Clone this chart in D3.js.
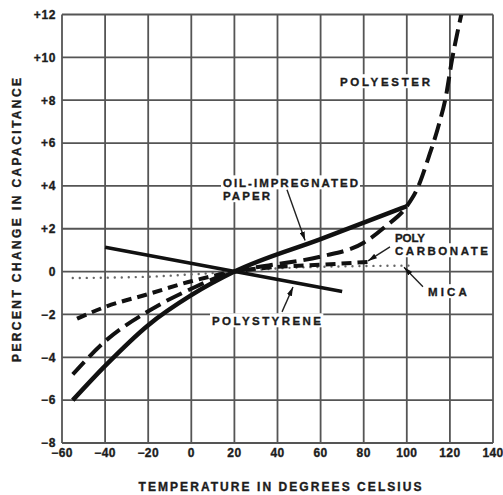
<!DOCTYPE html>
<html>
<head>
<meta charset="utf-8">
<script src="https://cdn.jsdelivr.net/npm/d3@7"></script>
<style>
  html, body { margin: 0; padding: 0; background: #fff; }
  svg { display: block; }
  text { font-family: "Liberation Sans", Arial, sans-serif; font-weight: bold; fill: #1c1c1c;
         stroke: #1c1c1c; stroke-width: 0.35px; }
</style>
</head>
<body>
<svg id="chart" width="503" height="495"></svg>
<script>
// Axis ticks and labels
const xTicks = [-60, -40, -20, 0, 20, 40, 60, 80, 100, 120, 140];
const xTickLabels = ["\u221260", "\u221240", "\u221220", "0", "20", "40", "60", "80", "100", "120", "140"];
const yTicks = [-8, -6, -4, -2, 0, 2, 4, 6, 8, 10, 12];
const yTickLabels = ["\u22128", "\u22126", "\u22124", "\u22122", "0", "+2", "+4", "+6", "+8", "+10", "+12"];

// Capacitance change (%) versus temperature (deg C) for each dielectric
const oilPaperTemp = [-55, -40, -20, 0, 20, 60, 100];
const oilPaperPct  = [-6.0, -4.4, -2.5, -1.1, 0, 1.52, 3.05];

const polyesterTemp = [-55, -40, -20, 0, 20, 30, 40, 60, 80, 90, 100, 105, 110, 115, 118, 121, 125.3];
const polyesterPct  = [-4.8, -3.25, -1.85, -0.8, 0, 0.2, 0.35, 0.7, 1.35, 2.1, 3.05, 3.9, 5.3, 6.9, 8.1, 9.9, 12];

const polycarbonateTemp = [-53, -40, -20, 0, 20, 40, 60, 82];
const polycarbonatePct  = [-2.2, -1.65, -1.05, -0.45, 0, 0.22, 0.32, 0.45];

const micaTemp = [-55, -20, 0, 20, 40, 60, 80, 102];
const micaPct  = [-0.3, -0.24, -0.13, 0, 0.15, 0.22, 0.26, 0.28];

const polystyreneTemp = [-40, 70];
const polystyrenePct  = [1.14, -0.93];

const svg = d3.select("#chart");
const x = d3.scaleLinear().domain([-60, 140]).range([62, 493]);
const y = d3.scaleLinear().domain([-8, 12]).range([443, 14.5]);

// Grid
const grid = svg.append("g").attr("stroke", "#555").attr("stroke-width", 1.8);
grid.selectAll("line.v").data(xTicks).join("line")
  .attr("x1", d => x(d)).attr("x2", d => x(d))
  .attr("y1", y(12)).attr("y2", y(-8));
grid.selectAll("line.h").data(yTicks).join("line")
  .attr("x1", x(-60)).attr("x2", x(140))
  .attr("y1", d => y(d)).attr("y2", d => y(d));

// Tick labels
svg.append("g").selectAll("text").data(yTicks).join("text")
  .attr("x", 56).attr("y", d => y(d)).attr("dy", "0.36em")
  .attr("text-anchor", "end").attr("font-size", 12).attr("letter-spacing", 0.6)
  .text((d, i) => yTickLabels[i]);
svg.append("g").selectAll("text").data(xTicks).join("text")
  .attr("x", d => x(d)).attr("y", 453).attr("dy", "0.36em")
  .attr("text-anchor", "middle").attr("font-size", 12).attr("letter-spacing", 0.4)
  .text((d, i) => xTickLabels[i]);

// Axis titles
svg.append("text")
  .attr("x", 280).attr("y", 487).attr("dy", "0.36em")
  .attr("text-anchor", "middle").attr("font-size", 12)
  .attr("textLength", 283).attr("lengthAdjust", "spacing")
  .text("TEMPERATURE IN DEGREES CELSIUS");
svg.append("text")
  .attr("transform", "translate(17,220) rotate(-90)")
  .attr("dy", "0.36em")
  .attr("text-anchor", "middle").attr("font-size", 12)
  .attr("textLength", 284).attr("lengthAdjust", "spacing")
  .text("PERCENT CHANGE IN CAPACITANCE");

// Curve labels, each with a white knockout behind it
const knockouts = svg.append("g");
const curves = svg.append("g").attr("fill", "none").attr("stroke", "#111");
const labelLayer = svg.append("g");

const labels = [
  { text: "POLYESTER",       t: 69.0,  v: 8.87,  len: 90 },
  { text: "OIL-IMPREGNATED", t: 14.7,  v: 4.15,  len: 135 },
  { text: "PAPER",           t: 14.7,  v: 3.55,  len: 47 },
  { text: "POLY",            t: 94.5,  v: 1.59,  len: 30 },
  { text: "CARBONATE",       t: 94.5,  v: 0.98,  len: 93 },
  { text: "MICA",            t: 109.8, v: -0.93, len: 39 },
  { text: "POLYSTYRENE",     t: 9.6,   v: -2.29, len: 109 }
];
labels.forEach(l => {
  const tx = labelLayer.append("text")
    .attr("x", x(l.t)).attr("y", y(l.v)).attr("dy", "0.36em")
    .attr("font-size", 11.5)
    .attr("textLength", l.len).attr("lengthAdjust", "spacing")
    .text(l.text);
  const b = tx.node().getBBox();
  knockouts.append("rect")
    .attr("x", b.x - 2).attr("y", b.y - 1.5)
    .attr("width", b.width + 4).attr("height", b.height + 2)
    .attr("fill", "#fff");
});

const line = d3.line().x(d => x(d[0])).y(d => y(d[1])).curve(d3.curveMonotoneX);
const zip = (a, b) => a.map((v, i) => [v, b[i]]);

curves.append("path").attr("d", line(zip(micaTemp, micaPct)))
  .attr("stroke", "#666").attr("stroke-width", 2.4)
  .attr("stroke-linecap", "round").attr("stroke-dasharray", "0,7");
curves.append("path").attr("d", line(zip(polycarbonateTemp, polycarbonatePct)))
  .attr("stroke-width", 4).attr("stroke-dasharray", "10,6");
curves.append("path").attr("d", line(zip(polystyreneTemp, polystyrenePct)))
  .attr("stroke-width", 3.5);
curves.append("path").attr("d", line(zip(polyesterTemp, polyesterPct)))
  .attr("stroke-width", 4).attr("stroke-dasharray", "17,7");
curves.append("path").attr("d", line(zip(oilPaperTemp, oilPaperPct)))
  .attr("stroke-width", 4.5);

// Leader arrows from labels to curves
svg.append("defs").append("marker")
  .attr("id", "head").attr("viewBox", "0 0 10 6")
  .attr("refX", 10).attr("refY", 3)
  .attr("markerWidth", 9).attr("markerHeight", 5.5)
  .attr("markerUnits", "userSpaceOnUse").attr("orient", "auto")
  .append("path").attr("d", "M0,0 L10,3 L0,6 Z").attr("fill", "#111");

const arrows = [
  { from: [44.4, 3.82],  to: [52.8, 1.45] },
  { from: [42.1, -1.88], to: [47.2, -0.72] },
  { from: [92.2, 1.15],  to: [82.0, 0.5] },
  { from: [107.5, -0.71], to: [98.7, 0.2] }
];
svg.append("g").selectAll("line").data(arrows).join("line")
  .attr("x1", d => x(d.from[0])).attr("y1", d => y(d.from[1]))
  .attr("x2", d => x(d.to[0])).attr("y2", d => y(d.to[1]))
  .attr("stroke", "#222").attr("stroke-width", 1.4)
  .attr("marker-end", "url(#head)");
</script>
</body>
</html>
